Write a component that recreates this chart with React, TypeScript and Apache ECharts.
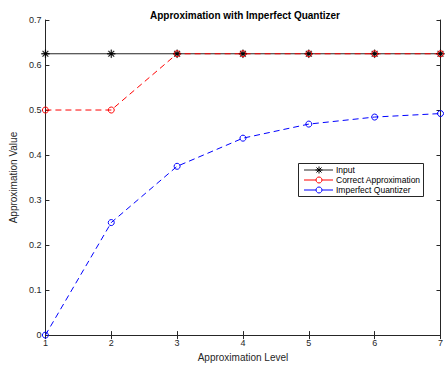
import React, { useEffect, useRef } from "react";
import * as echarts from "echarts";

const levels = [1, 2, 3, 4, 5, 6, 7];
const inputValues = [0.625, 0.625, 0.625, 0.625, 0.625, 0.625, 0.625];
const correctValues = [0.5, 0.5, 0.625, 0.625, 0.625, 0.625, 0.625];
const imperfectValues = [0, 0.25, 0.375, 0.4375, 0.46875, 0.484375, 0.4921875];
const yTicks = [0, 0.1, 0.2, 0.3, 0.4, 0.5, 0.6, 0.7];
const seriesNames = ["Input", "Correct Approximation", "Imperfect Quantizer"];
const seriesColors = ["#000000", "#ff0000", "#0000ff"];

const asterisk =
  "path://M-0.5,-5 L0.5,-5 L0.5,5 L-0.5,5 Z M-5,-0.5 L5,-0.5 L5,0.5 L-5,0.5 Z M-3.85,-3.15 L-3.15,-3.85 L3.85,3.15 L3.15,3.85 Z M3.15,-3.85 L3.85,-3.15 L-3.15,3.85 L-3.85,3.15 Z";

const font = "Liberation Sans, Arial, Helvetica, sans-serif";

function legendGraphic() {
  const x0 = 298;
  const y0 = 163;
  const w = 125;
  const h = 33;
  const els: any[] = [
    {
      type: "rect",
      shape: { x: x0 + 0.5, y: y0 + 0.5, width: w, height: h },
      style: { fill: "#fff", stroke: "#262626", lineWidth: 1 },
      z: 100,
    },
  ];
  seriesNames.forEach((name, i) => {
    const cy = y0 + 7 + i * 10;
    const color = seriesColors[i];
    els.push({
      type: "line",
      shape: { x1: x0 + 6, y1: cy, x2: x0 + 35, y2: cy },
      style: { stroke: i === 0 ? "#262626" : color, lineWidth: 1 },
      z: 101,
    });
    const mx = x0 + 21;
    if (i === 0) {
      const r = 3.5;
      const d = 2.5;
      [
        [0, -r, 0, r],
        [-r, 0, r, 0],
        [-d, -d, d, d],
        [-d, d, d, -d],
      ].forEach(([a, b, c, e]) =>
        els.push({
          type: "line",
          shape: { x1: mx + a, y1: cy + b, x2: mx + c, y2: cy + e },
          style: { stroke: "#000", lineWidth: 1 },
          z: 102,
        })
      );
    } else {
      els.push({
        type: "circle",
        shape: { cx: mx, cy, r: 3 },
        style: { fill: "#fff", stroke: color, lineWidth: 1 },
        z: 102,
      });
    }
    els.push({
      type: "text",
      x: x0 + 38,
      y: cy,
      style: {
        text: name,
        fill: "#000",
        fontFamily: font,
        fontSize: 8.5,
        verticalAlign: "middle",
        align: "left",
      },
      z: 102,
    });
  });
  return els;
}

export default function App() {
  const ref = useRef<HTMLDivElement>(null);
  useEffect(() => {
    if (!ref.current) return;
    const chart = echarts.init(ref.current, undefined, { renderer: "svg" });
    const pair = (vals: number[]) => vals.map((v, i) => [levels[i], v]);
    const axisCommon = {
      axisLine: { show: true, lineStyle: { color: "#262626", width: 1 } },
      axisTick: { show: true, inside: true, length: 4, lineStyle: { color: "#262626" } },
      splitLine: { show: false },
    };
    chart.setOption({
      animation: false,
      backgroundColor: "#fff",
      title: {
        text: "Approximation with Imperfect Quantizer",
        left: 240,
        textAlign: "center",
        top: 5,
        textStyle: { fontFamily: font, fontSize: 10, fontWeight: "bold", color: "#000" },
      },
      grid: { left: 38, right: 3, top: 20, bottom: 26, show: false },
      graphic: legendGraphic(),
      xAxis: [
        {
          type: "value",
          min: 1,
          max: 7,
          interval: 1,
          name: "Approximation Level",
          nameLocation: "middle",
          nameGap: 16,
          nameTextStyle: { fontFamily: font, fontSize: 10, color: "#262626" },
          axisLabel: { fontFamily: font, fontSize: 9, color: "#262626", margin: 3 },
          ...axisCommon,
        },
        {
          type: "value",
          position: "top",
          min: 1,
          max: 7,
          interval: 1,
          axisLabel: { show: false },
          ...axisCommon,
        },
      ],
      yAxis: [
        {
          type: "value",
          min: yTicks[0],
          max: yTicks[yTicks.length - 1],
          interval: 0.1,
          name: "Approximation Value",
          nameLocation: "middle",
          nameGap: 22,
          nameTextStyle: { fontFamily: font, fontSize: 10, color: "#262626" },
          axisLabel: { fontFamily: font, fontSize: 9, color: "#262626", margin: 4 },
          ...axisCommon,
        },
        {
          type: "value",
          position: "right",
          min: yTicks[0],
          max: yTicks[yTicks.length - 1],
          interval: 0.1,
          axisLabel: { show: false },
          ...axisCommon,
        },
      ],
      series: [
        {
          name: seriesNames[0],
          type: "line",
          data: pair(inputValues),
          symbol: asterisk,
          symbolSize: 8,
          itemStyle: { color: "#000", borderColor: "#000", borderWidth: 0.3 },
          lineStyle: { color: "#262626", width: 1 },
        },
        {
          name: seriesNames[1],
          type: "line",
          data: pair(correctValues),
          symbol: "circle",
          symbolSize: 6,
          itemStyle: { color: "rgba(0,0,0,0)", borderColor: seriesColors[1], borderWidth: 1 },
          lineStyle: { color: seriesColors[1], width: 1, type: [6, 4] },
        },
        {
          name: seriesNames[2],
          type: "line",
          data: pair(imperfectValues),
          symbol: "circle",
          symbolSize: 6,
          itemStyle: { color: "rgba(0,0,0,0)", borderColor: seriesColors[2], borderWidth: 1 },
          lineStyle: { color: seriesColors[2], width: 1, type: [6, 4] },
        },
      ],
    });
    return () => chart.dispose();
  }, []);
  return <div ref={ref} style={{ width: 446, height: 367, position: "absolute", left: 0, top: 0 }} />;
}
